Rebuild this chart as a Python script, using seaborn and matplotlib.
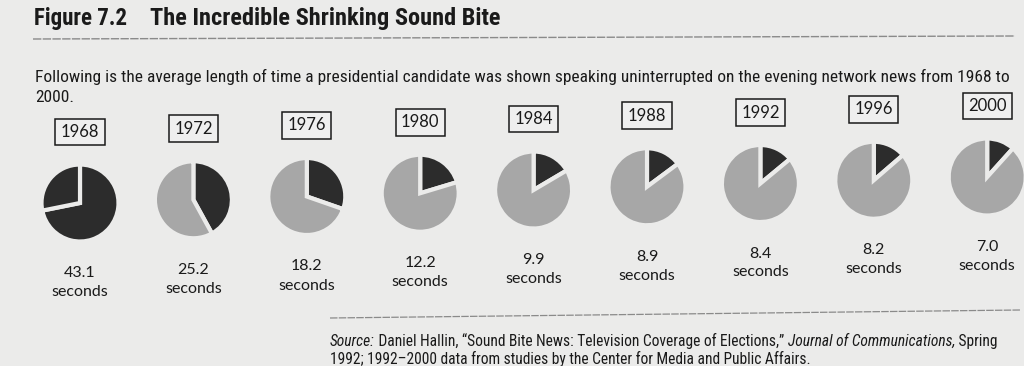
import matplotlib
matplotlib.use('Agg')
import matplotlib.pyplot as plt
import seaborn as sns

# Average sound bite length (seconds) per election year
years = ['1968', '1972', '1976', '1980', '1984', '1988', '1992', '1996', '2000']
seconds = [43.1, 25.2, 18.2, 12.2, 9.9, 8.9, 8.4, 8.2, 7.0]
minute = 60.0

title_num = 'Figure 7.2'
title_txt = 'The Incredible Shrinking Sound Bite'
subtitle_1 = ('Following is the average length of time a presidential candidate was shown '
              'speaking uninterrupted on the evening network news from 1968 to')
subtitle_2 = '2000.'

sns.set_theme(style='white')
plt.rcParams['font.family'] = ['Roboto Condensed', 'Roboto', 'DejaVu Sans']

bg = '#ebebea'
dark, light = sns.color_palette(['#2c2c2c', '#a7a7a7'])
ink = '#1a1a1a'
label_font = ['Lato', 'DejaVu Sans']

W, H = 1024, 366
fig = plt.figure(figsize=(W / 100, H / 100), dpi=100, facecolor=bg)
ax = fig.add_axes([0, 0, 1, 1])

# title and intro
ax.text(34, H - 19, title_num, fontsize=16.5, fontweight='bold', va='center', color=ink)
ax.text(150, H - 18, title_txt, fontsize=17.6, fontweight='bold', va='center', color=ink)
ax.plot([33, 1015], [H - 39, H - 36], color='#8a8a8a', lw=1.0, ls=(0, (6, 1)))
ax.text(35, H - 77, subtitle_1, fontsize=12.5, va='center', color=ink)
ax.text(35, H - 97, subtitle_2, fontsize=12.5, va='center', color=ink)

# pies, scanned page is slightly tilted so each column sits a little higher
x0, dx, r = 80, 113.4, 38.5
for i, (yr, s) in enumerate(zip(years, seconds)):
    cx = x0 + i * dx
    cy = H - (203 - i * 3.25)
    rest = dark if i == 0 else light
    ax.pie([s / minute, 1 - s / minute], colors=[dark, rest], startangle=90,
           counterclock=False, center=(cx, cy), radius=r, frame=True,
           wedgeprops=dict(edgecolor=bg, linewidth=3))
    ax.text(cx, cy + 71, yr, ha='center', va='center', fontsize=12,
            family=label_font, color=ink,
            bbox=dict(boxstyle='square,pad=0.32', fc='#efefef', ec=ink, lw=1.1))
    ax.text(cx, cy - 70, f'{s:.1f}', ha='center', va='center', fontsize=11.5,
            family=label_font, color=ink)
    ax.text(cx, cy - 89, 'seconds', ha='center', va='center', fontsize=11.5,
            family=label_font, color=ink)

ax.set_xlim(0, W)
ax.set_ylim(0, H)
ax.set_aspect('equal')
ax.axis('off')

# source note
ax.plot([330, 1020], [H - 318, H - 310], color='#8a8a8a', lw=0.9, ls=(0, (6, 1)))
kw = dict(fontsize=11.2, color=ink, va='bottom')
t = ax.text(330, H - 349, 'Source:', style='italic', **kw)
t = ax.annotate(' Daniel Hallin, \u201cSound Bite News: Television Coverage of Elections,\u201d ',
                xy=(1, 0), xycoords=t, **kw)
t = ax.annotate('Journal of Communications,', xy=(1, 0), xycoords=t, style='italic', **kw)
ax.annotate(' Spring', xy=(1, 0), xycoords=t, **kw)
ax.text(330, H - 367, '1992; 1992\u20132000 data from studies by the Center for Media and Public Affairs.', **kw)

fig.savefig('out.png', dpi=100, facecolor=bg)
